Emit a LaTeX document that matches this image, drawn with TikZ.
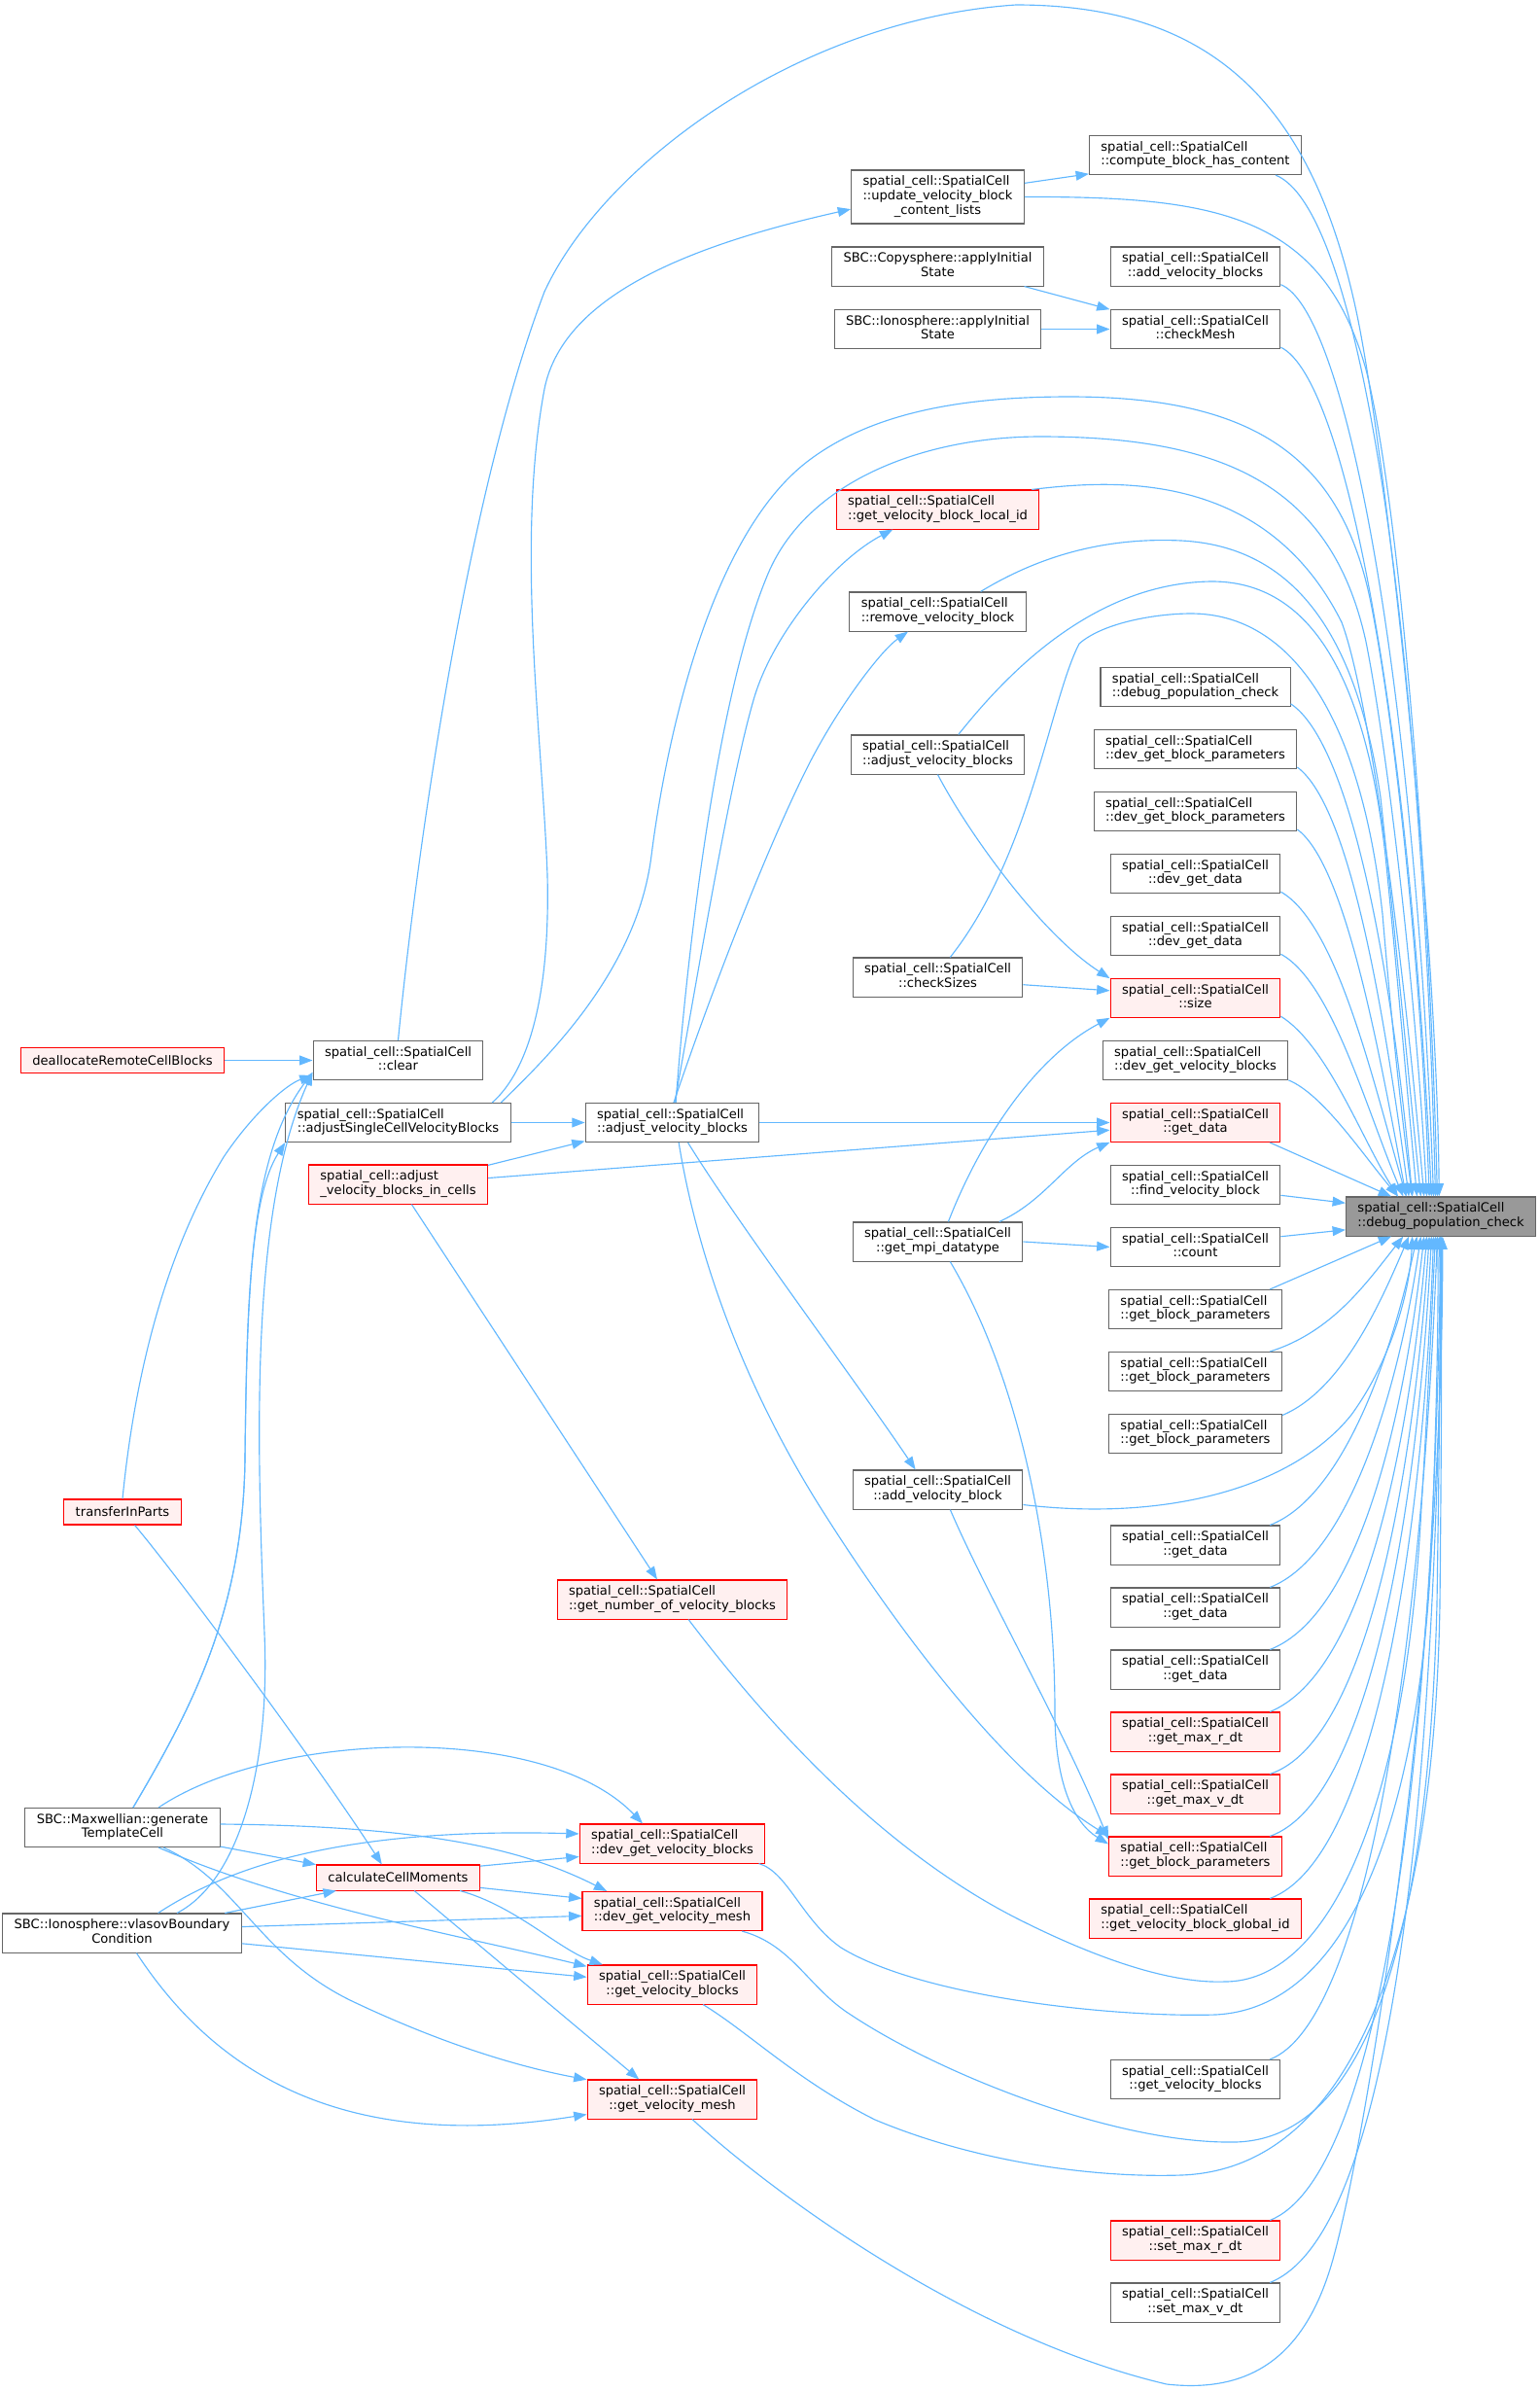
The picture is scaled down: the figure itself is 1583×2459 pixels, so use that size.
\documentclass[tikz,border=0pt]{standalone}
\usepackage{fontspec}
\setmainfont{DejaVu Sans}
\usetikzlibrary{arrows.meta}

\definecolor{edgeblue}{HTML}{63B8FF}
\definecolor{boxgray}{HTML}{666666}
\definecolor{boxred}{HTML}{FF0000}
\definecolor{boxpink}{HTML}{FFF0F0}
\definecolor{rootgray}{HTML}{999999}

\newcommand{\fnlab}[2]{\begin{tabular}{@{}l@{}}#1\\\multicolumn{1}{@{}c@{}}{#2}\end{tabular}}
\newcommand{\scell}[1]{\fnlab{spatial\_cell::SpatialCell}{#1}}

\begin{document}
\begin{tikzpicture}[x=0.02cm, y=-0.02cm,
  fn/.style={draw=boxgray, fill=white, line width=0.6pt, inner xsep=6.8pt, inner ysep=0pt,
    minimum height=22.8pt, font=\fontsize{7.45}{8.5}\selectfont},
  fnred/.style={fn, draw=boxred, fill=boxpink},
  fnroot/.style={fn, fill=rootgray},
  oneline/.style={minimum height=14.8pt},
  call/.style={draw=edgeblue, line width=0.65pt, -{Triangle[length=7.6pt,width=5.6pt]}}]
\useasboundingbox (0,0) rectangle (1583,2459);

\node[fnroot] (target) at (1482,1251) {\scell{::debug\_population\_check}};

\node[fn] (cbhc) at (1229.5,159.5) {\scell{::compute\_block\_has\_content}};
\node[fn] (addvbs) at (1229.5,274) {\scell{::add\_velocity\_blocks}};
\node[fn] (checkmesh) at (1229.5,338.5) {\scell{::checkMesh}};
\node[fn] (dpc) at (1229.5,706.5) {\scell{::debug\_population\_check}};
\node[fn] (dgbpA) at (1229.5,770.5) {\scell{::dev\_get\_block\_parameters}};
\node[fn] (dgbpB) at (1229.5,834.5) {\scell{::dev\_get\_block\_parameters}};
\node[fn] (dgdA) at (1229.5,898.5) {\scell{::dev\_get\_data}};
\node[fn] (dgdB) at (1229.5,962.5) {\scell{::dev\_get\_data}};
\node[fnred] (size) at (1229.5,1026.5) {\scell{::size}};
\node[fn] (dgvb) at (1229.5,1090.5) {\scell{::dev\_get\_velocity\_blocks}};
\node[fnred] (getdata) at (1229.5,1154.5) {\scell{::get\_data}};
\node[fn] (findvb) at (1229.5,1218.5) {\scell{::find\_velocity\_block}};
\node[fn] (count) at (1229.5,1282.5) {\scell{::count}};
\node[fn] (gbpA) at (1229.5,1346.5) {\scell{::get\_block\_parameters}};
\node[fn] (gbpB) at (1229.5,1410.5) {\scell{::get\_block\_parameters}};
\node[fn] (gbpC) at (1229.5,1474.5) {\scell{::get\_block\_parameters}};
\node[fn] (gdA) at (1229.5,1589) {\scell{::get\_data}};
\node[fn] (gdB) at (1229.5,1653) {\scell{::get\_data}};
\node[fn] (gdC) at (1229.5,1717) {\scell{::get\_data}};
\node[fnred] (gmaxr) at (1229.5,1781) {\scell{::get\_max\_r\_dt}};
\node[fnred] (gmaxv) at (1229.5,1845) {\scell{::get\_max\_v\_dt}};
\node[fnred] (gbpr) at (1229.5,1909) {\scell{::get\_block\_parameters}};
\node[fnred] (gvbgid) at (1229.5,1973) {\scell{::get\_velocity\_block\_global\_id}};
\node[fn] (gvbw) at (1229.5,2138.5) {\scell{::get\_velocity\_blocks}};
\node[fnred] (setmaxr) at (1229.5,2304) {\scell{::set\_max\_r\_dt}};
\node[fn] (setmaxv) at (1229.5,2368) {\scell{::set\_max\_v\_dt}};

\node[fn, minimum height=31.3pt] (uvbcl) at (964.5,202.5)
  {\begin{tabular}{@{}l@{}}spatial\_cell::SpatialCell\\::update\_velocity\_block\\\multicolumn{1}{@{}c@{}}{\_content\_lists}\end{tabular}};
\node[fn] (copy) at (964.5,274) {\fnlab{SBC::Copysphere::applyInitial}{State}};
\node[fn] (iono) at (964.5,338.5) {\fnlab{SBC::Ionosphere::applyInitial}{State}};
\node[fnred] (gvblid) at (964.5,524) {\scell{::get\_velocity\_block\_local\_id}};
\node[fn] (rvb) at (964.5,629) {\scell{::remove\_velocity\_block}};
\node[fn] (avbu) at (964.5,776) {\scell{::adjust\_velocity\_blocks}};
\node[fn] (checksizes) at (964.5,1005) {\scell{::checkSizes}};
\node[fn] (mpi) at (964.5,1277) {\scell{::get\_mpi\_datatype}};
\node[fn] (avbone) at (964.5,1532) {\scell{::add\_velocity\_block}};

\node[fn] (avbm) at (691.5,1154.5) {\scell{::adjust\_velocity\_blocks}};
\node[fnred] (gnvb) at (691.5,1645) {\scell{::get\_number\_of\_velocity\_blocks}};
\node[fnred] (dgvbr) at (691.5,1896) {\scell{::dev\_get\_velocity\_blocks}};
\node[fnred] (dgvm) at (691.5,1965.5) {\scell{::dev\_get\_velocity\_mesh}};
\node[fnred] (gvbr) at (691.5,2041) {\scell{::get\_velocity\_blocks}};
\node[fnred] (gvm) at (691.5,2159) {\scell{::get\_velocity\_mesh}};

\node[fn] (clear) at (409.5,1090.5) {\scell{::clear}};
\node[fn] (adjsingle) at (409.5,1154.5) {\scell{::adjustSingleCellVelocityBlocks}};
\node[fnred] (incells) at (409.5,1218) {\fnlab{spatial\_cell::adjust}{\_velocity\_blocks\_in\_cells}};
\node[fnred, oneline] (calc) at (409.5,1931) {calculateCellMoments};

\node[fnred, oneline] (dealloc) at (126,1090.5) {deallocateRemoteCellBlocks};
\node[fnred, oneline] (transfer) at (126,1555) {transferInParts};
\node[fn] (maxw) at (126,1879.5) {\fnlab{SBC::Maxwellian::generate}{TemplateCell}};
\node[fn] (vlasov) at (125.5,1988) {\fnlab{SBC::Ionosphere::vlasovBoundary}{Condition}};

% callers of the root, from the top
\draw[call] (clear.north) .. controls (428,880) and (480,510) .. (560,300) .. controls (620,170) and (820,20) .. (1045,5) .. controls (1250,5) and (1350,110) .. (1395,320) .. controls (1425,460) and (1478,950) .. (target.95);
\draw[call] (uvbcl.east) .. controls (1250,202) and (1360,220) .. (1405,380) .. controls (1440,520) and (1470,900) .. (target.100);
\draw[call] (cbhc.-14) .. controls (1400,215) and (1462,650) .. (target.105);
\draw[call] (addvbs.-12) .. controls (1385,320) and (1455,700) .. (target.110);
\draw[call] (checkmesh.-12) .. controls (1385,390) and (1450,750) .. (target.115);
\draw[call] (adjsingle.11) .. controls (560,1090) and (655,1000) .. (670,880) .. controls (680,800) and (720,560) .. (830,475) .. controls (900,421) and (1000,408) .. (1100,408) .. controls (1290,408) and (1380,470) .. (1410,620) .. controls (1435,745) and (1462,1000) .. (target.120);
\draw[call] (avbm.80) .. controls (705,1000) and (735,720) .. (790,590) .. controls (830,495) and (950,449) .. (1070,449) .. controls (1260,449) and (1370,500) .. (1405,660) .. controls (1425,760) and (1455,1000) .. (target.125);
\draw[call] (gvblid.12) .. controls (1140,494) and (1300,480) .. (1380,640) .. controls (1410,720) and (1445,1000) .. (target.130);
\draw[call] (rvb.25) .. controls (1080,565) and (1150,553) .. (1215,556) .. controls (1330,562) and (1395,650) .. (1420,820) .. controls (1435,960) and (1448,1100) .. (target.135);
\draw[call] (avbu.44) .. controls (1030,700) and (1120,600) .. (1245,598) .. controls (1350,597) and (1405,700) .. (1425,880) .. controls (1438,1010) and (1448,1130) .. (target.140);
\draw[call] (checksizes.58) .. controls (1060,880) and (1080,720) .. (1110,662) .. controls (1135,640) and (1190,631) .. (1225,631) .. controls (1330,631) and (1400,740) .. (1422,940) .. controls (1432,1060) and (1442,1150) .. (target.145);
\draw[call] (dpc.-10) .. controls (1390,765) and (1432,1000) .. (target.145);
\draw[call] (dgbpA.-10) .. controls (1390,830) and (1425,1050) .. (target.148);
\draw[call] (dgbpB.-10) .. controls (1385,890) and (1420,1090) .. (target.150);
\draw[call] (dgdA.-12) .. controls (1375,950) and (1412,1110) .. (target.150);
\draw[call] (dgdB.-12) .. controls (1370,1010) and (1405,1140) .. (target.152);
\draw[call] (size.-12) .. controls (1365,1075) and (1400,1170) .. (target.155);
\draw[call] (dgvb.-12) .. controls (1360,1125) and (1400,1185) .. (target.155);
\draw[call] (getdata.-15) -- (target.158);
\draw[call] (findvb.-7) -- (target.172);
\draw[call] (count.7) -- (target.188);
\draw[call] (gbpA.15) -- (target.-158);
\draw[call] (gbpB.15) .. controls (1370,1370) and (1405,1320) .. (target.-152);
\draw[call] (gbpC.12) .. controls (1380,1430) and (1420,1340) .. (target.-148);
\draw[call] (avbone.-10) .. controls (1200,1565) and (1330,1530) .. (1390,1455) .. controls (1430,1400) and (1450,1330) .. (target.-145);
\draw[call] (gdA.15) .. controls (1380,1540) and (1430,1400) .. (target.-140);
\draw[call] (gdB.15) .. controls (1390,1600) and (1440,1420) .. (target.-135);
\draw[call] (gdC.15) .. controls (1400,1660) and (1445,1450) .. (target.-130);
\draw[call] (gmaxr.15) .. controls (1405,1720) and (1450,1480) .. (target.-125);
\draw[call] (gmaxv.15) .. controls (1410,1790) and (1455,1500) .. (target.-120);
\draw[call] (gbpr.15) .. controls (1415,1850) and (1460,1520) .. (target.-115);
\draw[call] (gvbgid.15) .. controls (1420,1910) and (1465,1550) .. (target.-110);
\draw[call] (gnvb.-51) .. controls (780,1760) and (900,1900) .. (1050,1975) .. controls (1140,2020) and (1210,2040) .. (1260,2038) .. controls (1360,2038) and (1445,1880) .. (1462,1550) .. controls (1470,1420) and (1474,1320) .. (target.-105);
\draw[call] (dgvbr.-13) .. controls (810,1925) and (825,1975) .. (865,2003) .. controls (950,2055) and (1150,2075) .. (1250,2072) .. controls (1395,2065) and (1460,1850) .. (1472,1600) .. controls (1478,1450) and (1480,1330) .. (target.-100);
\draw[call] (gvbw.15) .. controls (1405,2080) and (1462,1700) .. (target.-100);
\draw[call] (dgvm.-16) .. controls (815,2000) and (832,2045) .. (875,2072) .. controls (970,2135) and (1150,2205) .. (1270,2203) .. controls (1420,2200) and (1470,1950) .. (1478,1650) .. controls (1481,1450) and (1482,1330) .. (target.-95);
\draw[call] (gvbr.-33) .. controls (770,2090) and (820,2140) .. (900,2180) .. controls (1000,2222) and (1120,2240) .. (1215,2237) .. controls (1410,2230) and (1476,1950) .. (1481,1650) .. controls (1483,1450) and (1483,1330) .. (target.-92);
\draw[call] (setmaxr.15) .. controls (1415,2240) and (1474,1850) .. (target.-90);
\draw[call] (setmaxv.15) .. controls (1425,2300) and (1478,1900) .. (target.-88);
\draw[call] (gvm.-45) .. controls (800,2260) and (1000,2405) .. (1200,2452) .. controls (1290,2462) and (1345,2420) .. (1372,2320) .. controls (1410,2180) and (1484,1700) .. (target.-85);

% the other calls
\draw[call] (uvbcl.9) -- (cbhc.190);
\draw[call] (copy.-13) -- (checkmesh.167);
\draw[call] (iono.east) -- (checkmesh.west);
\draw[call] (adjsingle.12) .. controls (545,1100) and (566,1020) .. (563,900) .. controls (558,760) and (530,560) .. (560,400) .. controls (580,300) and (720,250) .. (uvbcl.188);
\draw[call] (avbm.83) .. controls (725,960) and (752,800) .. (775,720) .. controls (795,650) and (860,575) .. (gvblid.-156);
\draw[call] (avbm.86) .. controls (735,1010) and (790,870) .. (830,790) .. controls (860,730) and (905,670) .. (rvb.-146);
\draw[call] (dealloc.east) -- (clear.west);
\draw[call] (transfer.north) .. controls (140,1400) and (175,1280) .. (230,1190) .. controls (260,1145) and (295,1115) .. (clear.190);
\draw[call] (maxw.62) .. controls (195,1760) and (250,1660) .. (252,1500) .. controls (254,1330) and (256,1190) .. (clear.188);
\draw[call] (maxw.62) .. controls (195,1760) and (250,1660) .. (252,1500) .. controls (254,1340) and (258,1230) .. (adjsingle.-170);
\draw[call] (vlasov.20) .. controls (245,1935) and (278,1820) .. (272,1680) .. controls (265,1500) and (255,1250) .. (clear.188);
\draw[call] (adjsingle.east) -- (avbm.west);
\draw[call] (incells.12) -- (avbm.192);
\draw[call] (incells.4) -- (getdata.185);
\draw[call] (avbm.east) -- (getdata.west);
\draw[call] (avbu.south) .. controls (995,855) and (1070,960) .. (size.167);
\draw[call] (checksizes.-5) -- (size.175);
\draw[call] (mpi.62) .. controls (1005,1180) and (1060,1090) .. (size.-167);
\draw[call] (mpi.18) .. controls (1075,1235) and (1095,1195) .. (getdata.-167);
\draw[call] (mpi.east) -- (count.west);
\draw[call] (avbm.-52) .. controls (760,1260) and (880,1420) .. (avbone.138);
\draw[call] (avbm.-72) .. controls (715,1280) and (760,1420) .. (850,1560) .. controls (920,1670) and (1030,1820) .. (gbpr.167);
\draw[call] (avbone.-58) .. controls (1015,1640) and (1090,1770) .. (gbpr.169);
\draw[call] (mpi.-58) .. controls (1050,1420) and (1085,1600) .. (1085,1760) .. controls (1085,1835) and (1105,1875) .. (gbpr.172);
\draw[call] (incells.-56) -- (gnvb.127);
\draw[call] (transfer.-47) .. controls (190,1630) and (330,1820) .. (calc.141);
\draw[call] (maxw.-11) -- (calc.171);
\draw[call] (vlasov.11) -- (calc.-168);
\draw[call] (calc.8) -- (dgvbr.188);
\draw[call] (calc.-7) -- (dgvm.172);
\draw[call] (calc.-12) .. controls (530,1960) and (575,2005) .. (gvbr.164);
\draw[call] (calc.-39) -- (gvm.149);
\draw[call] (maxw.29) .. controls (280,1780) and (560,1770) .. (dgvbr.146);
\draw[call] (maxw.2) .. controls (450,1878) and (545,1905) .. (dgvm.163);
\draw[call] (maxw.-29) .. controls (300,1960) and (480,1992) .. (gvbr.168);
\draw[call] (maxw.-26) .. controls (245,1935) and (265,2010) .. (360,2057) .. controls (450,2100) and (530,2125) .. (gvm.167);
\draw[call] (vlasov.29) .. controls (250,1910) and (380,1880) .. (dgvbr.174);
\draw[call] (vlasov.3) -- (dgvm.183);
\draw[call] (vlasov.-5) -- (gvbr.175);
\draw[call] (vlasov.-54) .. controls (220,2130) and (350,2215) .. (gvm.190);
\end{tikzpicture}
\end{document}
